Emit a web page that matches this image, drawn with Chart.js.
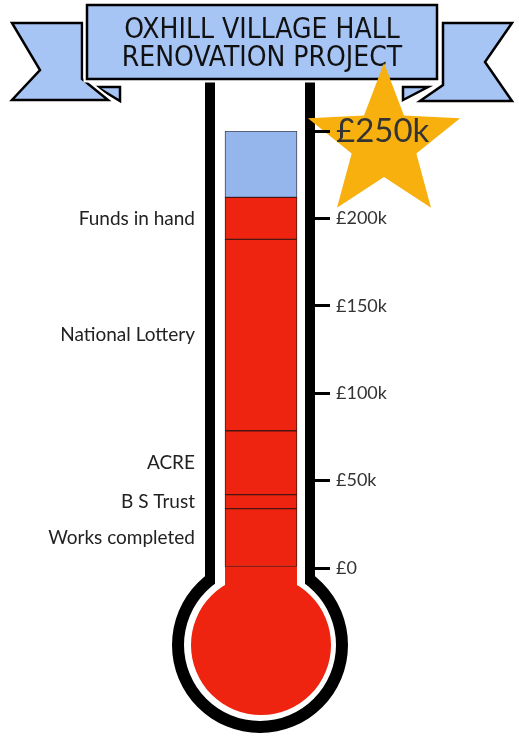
<!DOCTYPE html>
<html>
<head>
<meta charset="utf-8">
<title>Oxhill Village Hall Renovation Project</title>
<script src="https://cdn.jsdelivr.net/npm/chart.js@4"></script>
<style>
  body { margin: 0; background: #fff; }
  canvas { display: block; }
</style>
</head>
<body>
<canvas id="thermo" width="519" height="736"></canvas>
<script>
// all money in £k
var target = 250;
var sources = ['Works completed', 'B S Trust', 'ACRE', 'National Lottery', 'Funds in hand'];
var amounts = [34, 8, 36.5, 109.5, 24];
var tickValues = [0, 50, 100, 150, 200, 250];
var titleLines = ['OXHILL VILLAGE HALL', 'RENOVATION PROJECT'];

var RED = '#ee2410';
var BLUE = '#94b6ec';
var RIBBON = '#a6c4f4';
var GOLD = '#f8b00f';
var LINE = '#4a1610';

var raised = 0;
for (var i = 0; i < amounts.length; i++) raised += amounts[i];
var remaining = target - raised;

function money(v) {
    return v === 0 ? '£0' : '£' + v + 'k';
}

function shape(ctx, pts) {
    ctx.beginPath();
    ctx.moveTo(pts[0][0], pts[0][1]);
    for (var k = 1; k < pts.length; k++) ctx.lineTo(pts[k][0], pts[k][1]);
    ctx.closePath();
    ctx.fillStyle = RIBBON;
    ctx.fill();
    ctx.lineJoin = 'miter';
    ctx.strokeStyle = '#fff';
    ctx.lineWidth = 7;
    ctx.stroke();
    ctx.fill();
    ctx.strokeStyle = '#000';
    ctx.lineWidth = 2.5;
    ctx.stroke();
}

// glass tube, bulb, banner and star behind the axis
var background = {
    id: 'background',
    beforeDraw: function(chart) {
        var ctx = chart.ctx;
        var a = chart.chartArea;
        var cx = (a.left + a.right) / 2 - 1;
        var by = a.bottom + 77;
        ctx.save();
        ctx.fillStyle = '#fff';
        ctx.fillRect(0, 0, chart.width, chart.height);

        ctx.fillStyle = '#000';
        ctx.beginPath();
        ctx.rect(cx - 55, 60, 110, by - 60);
        ctx.moveTo(cx + 88, by);
        ctx.arc(cx, by, 88, 0, Math.PI * 2);
        ctx.fill();

        ctx.fillStyle = '#fff';
        ctx.beginPath();
        ctx.rect(cx - 45, 60, 90, by - 60);
        ctx.moveTo(cx + 76, by);
        ctx.arc(cx, by, 76, 0, Math.PI * 2);
        ctx.fill();

        ctx.fillStyle = RED;
        ctx.beginPath();
        ctx.rect(a.left + 18, a.bottom - 2, 72, 80);
        ctx.moveTo(cx + 1 + 70, by);
        ctx.arc(cx + 1, by, 70, 0, Math.PI * 2);
        ctx.fill();

        // banner
        shape(ctx, [[97, 87], [120, 87], [120, 101]]);
        shape(ctx, [[403, 87], [428, 87], [403, 100]]);
        shape(ctx, [[12, 23], [82, 23], [82, 79], [108, 100], [12, 100], [40, 70]]);
        shape(ctx, [[443, 23], [512, 23], [485, 62], [512, 101], [420, 101], [443, 85]]);
        shape(ctx, [[87, 5], [437, 5], [437, 79], [87, 79]]);

        ctx.fillStyle = '#111';
        ctx.textAlign = 'center';
        ctx.textBaseline = 'middle';
        ctx.font = '28px "DejaVu Sans Condensed", "DejaVu Sans", sans-serif';
        ctx.fillText(titleLines[0], 262, 31, 288);
        ctx.fillText(titleLines[1], 262, 59, 302);

        // star
        var sx = 384, sy = 143;
        ctx.fillStyle = GOLD;
        ctx.beginPath();
        for (var k = 0; k < 10; k++) {
            var r = k % 2 === 0 ? 80 : 34;
            var ang = -Math.PI / 2 + k * Math.PI / 5;
            var px = sx + r * Math.cos(ang), py = sy + r * Math.sin(ang);
            if (k === 0) ctx.moveTo(px, py); else ctx.lineTo(px, py);
        }
        ctx.closePath();
        ctx.fill();
        ctx.restore();
    }
};

// names of the funding sources, left of the tube
var sourceLabels = {
    id: 'sourceLabels',
    afterDatasetsDraw: function(chart) {
        var ctx = chart.ctx;
        var a = chart.chartArea;
        ctx.save();
        ctx.fillStyle = '#222';
        ctx.font = '19px Lato, sans-serif';
        ctx.textAlign = 'right';
        ctx.textBaseline = 'middle';
        for (var i = 0; i < sources.length; i++) {
            var bar = chart.getDatasetMeta(i).data[0];
            ctx.fillText(sources[i], a.left - 12, (bar.y + bar.base) / 2);
        }
        ctx.restore();
    }
};

var datasets = [];
for (var i = 0; i < sources.length; i++) {
    datasets.push({
        label: sources[i],
        data: [amounts[i]],
        backgroundColor: RED,
        borderColor: LINE,
        borderWidth: 1,
        borderSkipped: false
    });
}
datasets.push({
    label: 'Still to raise',
    data: [remaining],
    backgroundColor: BLUE,
    borderColor: '#445',
    borderWidth: 1,
    borderSkipped: false
});

var ctx = document.getElementById('thermo').getContext('2d');
var myChart = new Chart(ctx, {
    type: 'bar',
    data: {
        labels: ['Raised'],
        datasets: datasets
    },
    plugins: [background, sourceLabels],
    options: {
        responsive: false,
        animation: false,
        barThickness: 72,
        layout: { padding: { left: 207, right: 54, top: 131, bottom: 168 } },
        plugins: { legend: { display: false }, tooltip: { enabled: false } },
        scales: {
            x: { stacked: true, display: false },
            y: {
                stacked: true,
                position: 'right',
                min: 0,
                max: target,
                afterBuildTicks: function(scale) {
                    scale.ticks = tickValues.map(function(v) { return { value: v }; });
                },
                afterFit: function(scale) { scale.width = 150; },
                border: { display: false },
                grid: {
                    drawOnChartArea: false,
                    drawTicks: true,
                    tickLength: 15,
                    lineWidth: 3,
                    color: '#000'
                },
                ticks: {
                    padding: 6,
                    color: '#333',
                    font: function(c) {
                        if (c.tick && c.tick.value === target) return { family: 'Lato', size: 33 };
                        return { family: 'Lato', size: 18 };
                    },
                    callback: function(v) { return money(v); }
                }
            }
        }
    }
});
</script>
</body>
</html>
